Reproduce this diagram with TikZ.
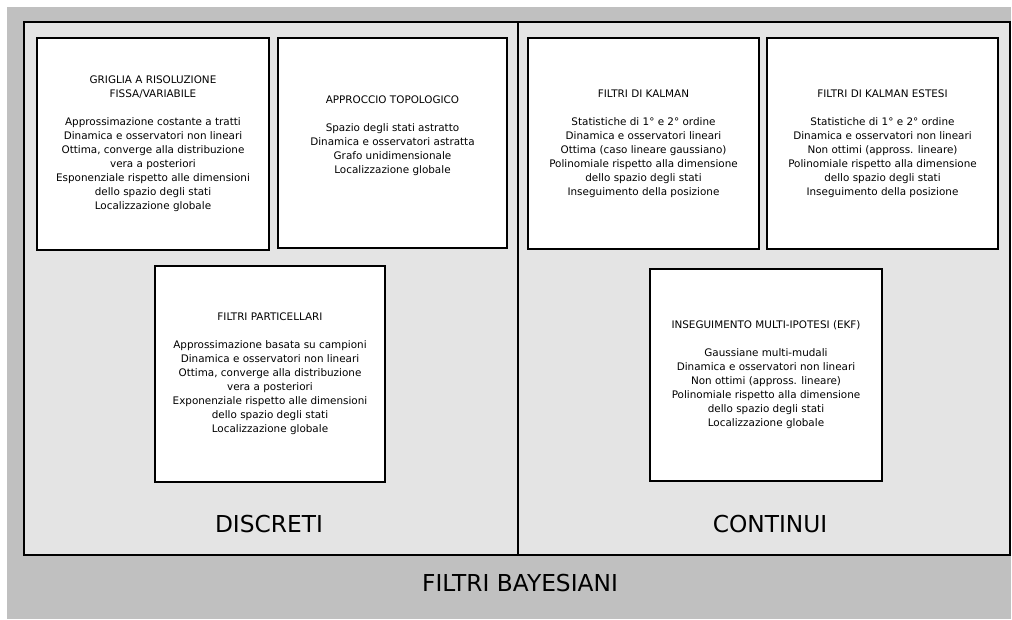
\documentclass[tikz,border=0pt]{standalone}
\usepackage{fontspec}
\setmainfont{DejaVu Sans}
\usetikzlibrary{calc}
\definecolor{outergray}{HTML}{C0C0C0}
\definecolor{panelgray}{HTML}{E4E4E4}
\begin{document}
\begin{tikzpicture}[x=1pt,y=-1pt,
  panel/.style={draw=black, line width=1.5pt, fill=panelgray},
  box/.style={draw=black, line width=1.5pt, fill=white, inner sep=0pt},
  body/.style={align=center, font=\fontsize{10.4}{14}\selectfont, inner sep=0pt},
  big/.style={font=\fontsize{23.3}{27}\selectfont, inner sep=0pt}]
\useasboundingbox (0,0) rectangle (1012,619);
\fill[white] (0,0) rectangle (1012,619);
% outer frame
\fill[outergray] (7,7) rectangle (1011,619);
% the two families of filters
\draw[panel] (24,22) rectangle (518,555);
\draw[panel] (518,22) rectangle (1010,555);

% discrete filters
\node[box, minimum width=232, minimum height=212] (griglia) at (153,144) {};
\node[body] (griglia-t) at (griglia.center)
  {GRIGLIA A RISOLUZIONE\\FISSA/VARIABILE\\[14pt]
   Approssimazione costante a tratti\\
   Dinamica e osservatori non lineari\\
   Ottima, converge alla distribuzione\\
   vera a posteriori\\
   Esponenziale rispetto alle dimensioni\\
   dello spazio degli stati\\
   Localizzazione globale};

\node[box, minimum width=229, minimum height=210] (topo) at (392.5,143) {};
\node[body] (topo-t) at ($(topo.center)+(0,-7)$)
  {APPROCCIO TOPOLOGICO\\[14pt]
   Spazio degli stati astratto\\
   Dinamica e osservatori astratta\\
   Grafo unidimensionale\\
   Localizzazione globale};

\node[box, minimum width=230, minimum height=216] (part) at (270,374) {};
\node[body] (part-t) at (part.center)
  {FILTRI PARTICELLARI\\[14pt]
   Approssimazione basata su campioni\\
   Dinamica e osservatori non lineari\\
   Ottima, converge alla distribuzione\\
   vera a posteriori\\
   Exponenziale rispetto alle dimensioni\\
   dello spazio degli stati\\
   Localizzazione globale};

% continuous filters
\node[box, minimum width=231, minimum height=211] (kalman) at (643.5,143.5) {};
\node[body] (kalman-t) at (kalman.center)
  {FILTRI DI KALMAN\\[14pt]
   Statistiche di 1° e 2° ordine\\
   Dinamica e osservatori lineari\\
   Ottima (caso lineare gaussiano)\\
   Polinomiale rispetto alla dimensione\\
   dello spazio degli stati\\
   Inseguimento della posizione};

\node[box, minimum width=231, minimum height=211] (ekf) at (882.5,143.5) {};
\node[body] (ekf-t) at (ekf.center)
  {FILTRI DI KALMAN ESTESI\\[14pt]
   Statistiche di 1° e 2° ordine\\
   Dinamica e osservatori non lineari\\
   Non ottimi (appross. lineare)\\
   Polinomiale rispetto alla dimensione\\
   dello spazio degli stati\\
   Inseguimento della posizione};

\node[box, minimum width=232, minimum height=212] (mht) at (766,375) {};
\node[body] (mht-t) at (mht.center)
  {INSEGUIMENTO MULTI-IPOTESI (EKF)\\[14pt]
   Gaussiane multi-mudali\\
   Dinamica e osservatori non lineari\\
   Non ottimi (appross. lineare)\\
   Polinomiale rispetto alla dimensione\\
   dello spazio degli stati\\
   Localizzazione globale};

% captions
\node[big] (discreti) at (269,524) {DISCRETI};
\node[big] (continui) at (770,524) {CONTINUI};
\node[big] (bayes) at (520,583.5) {FILTRI BAYESIANI};
\end{tikzpicture}
\end{document}
